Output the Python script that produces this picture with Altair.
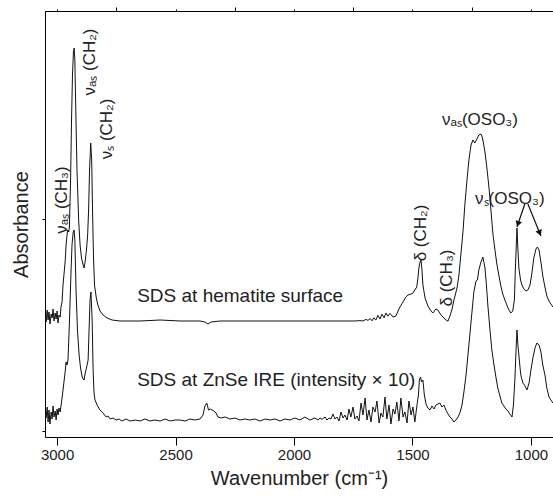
import altair as alt
import pandas as pd

FONT = "Liberation Sans"

# SDS at hematite surface (upper trace): wavenumber (cm-1), absorbance (offset, a.u.)
upper_wn = [3051, 3046, 3042, 3038, 3034, 3030, 3025, 3021, 3017, 3013, 3008, 3004, 3000, 2996, 2992, 2987,
            2983, 2979, 2975, 2970, 2966, 2962, 2958, 2955, 2951, 2948, 2943, 2939, 2935, 2931, 2928, 2925,
            2921, 2916, 2909, 2903, 2897, 2890, 2886, 2882, 2876, 2871, 2867, 2863, 2858, 2854, 2850, 2846,
            2842, 2835, 2829, 2819, 2806, 2789, 2768, 2734, 2650, 2565, 2481, 2397, 2376, 2363, 2350, 2312,
            2228, 2144, 2059, 1975, 1890, 1806, 1743, 1722, 1709, 1696, 1688, 1679, 1671, 1663, 1654, 1646,
            1637, 1629, 1620, 1612, 1604, 1595, 1582, 1570, 1561, 1553, 1540, 1528, 1519, 1506, 1498, 1490,
            1482, 1477, 1473, 1468, 1464, 1460, 1456, 1447, 1435, 1422, 1414, 1401, 1393, 1380, 1371, 1359,
            1350, 1342, 1333, 1325, 1312, 1304, 1296, 1287, 1279, 1270, 1262, 1253, 1245, 1237, 1228, 1220,
            1211, 1207, 1203, 1194, 1186, 1177, 1169, 1161, 1152, 1144, 1135, 1127, 1119, 1110, 1102, 1093,
            1085, 1077, 1070, 1066, 1061, 1059, 1056, 1051, 1044, 1038, 1030, 1021, 1013, 1004, 996, 988,
            979, 973, 966, 958, 950, 941, 933, 924, 916, 907]
upper_abs = [0.575, 0.545, 0.605, 0.555, 0.595, 0.535, 0.585, 0.565, 0.610, 0.550, 0.590, 0.560, 0.600, 0.540, 0.580, 0.570,
             0.625, 0.645, 0.730, 0.795, 0.845, 0.930, 0.980, 1.005, 0.995, 1.020, 1.255, 1.555, 1.780, 1.895, 1.915, 1.855,
             1.605, 1.305, 1.055, 0.930, 0.865, 0.830, 0.815, 0.845, 0.905, 0.980, 1.105, 1.305, 1.440, 1.355, 1.080, 0.855,
             0.730, 0.670, 0.635, 0.600, 0.580, 0.565, 0.555, 0.550, 0.550, 0.555, 0.550, 0.550, 0.545, 0.535, 0.545, 0.550,
             0.550, 0.550, 0.550, 0.550, 0.550, 0.550, 0.550, 0.552, 0.550, 0.558, 0.553, 0.562, 0.551, 0.566, 0.556, 0.578,
             0.560, 0.584, 0.566, 0.590, 0.574, 0.588, 0.570, 0.575, 0.600, 0.620, 0.645, 0.670, 0.680, 0.685, 0.690, 0.705,
             0.720, 0.765, 0.815, 0.845, 0.855, 0.805, 0.730, 0.665, 0.625, 0.600, 0.590, 0.610, 0.605, 0.580, 0.570, 0.555,
             0.550, 0.575, 0.610, 0.655, 0.715, 0.780, 0.880, 0.995, 1.130, 1.255, 1.355, 1.430, 1.455, 1.440, 1.460, 1.480,
             1.485, 1.475, 1.455, 1.395, 1.315, 1.215, 1.105, 0.990, 0.905, 0.835, 0.775, 0.725, 0.685, 0.655, 0.630, 0.605,
             0.590, 0.600, 0.655, 0.805, 0.955, 1.015, 0.930, 0.815, 0.755, 0.730, 0.710, 0.700, 0.705, 0.730, 0.790, 0.865,
             0.910, 0.920, 0.905, 0.845, 0.775, 0.720, 0.675, 0.650, 0.635, 0.620]

# SDS at ZnSe IRE, intensity x 10 (lower trace)
lower_wn = [3051, 3046, 3042, 3038, 3034, 3030, 3025, 3021, 3017, 3013, 3008, 3004, 3000, 2996, 2992, 2987,
            2983, 2979, 2975, 2970, 2966, 2962, 2958, 2954, 2949, 2945, 2941, 2937, 2932, 2928, 2925, 2920,
            2914, 2907, 2901, 2895, 2890, 2886, 2882, 2876, 2869, 2865, 2861, 2857, 2852, 2848, 2844, 2840,
            2831, 2819, 2806, 2793, 2785, 2776, 2764, 2751, 2738, 2726, 2709, 2692, 2671, 2650, 2629, 2608,
            2587, 2565, 2544, 2523, 2502, 2481, 2460, 2439, 2418, 2397, 2384, 2376, 2368, 2361, 2354, 2346,
            2338, 2329, 2321, 2308, 2291, 2270, 2249, 2228, 2207, 2186, 2165, 2144, 2122, 2101, 2080, 2059,
            2038, 2017, 1996, 1975, 1954, 1933, 1912, 1899, 1890, 1882, 1869, 1861, 1852, 1844, 1836, 1827,
            1819, 1810, 1802, 1793, 1785, 1776, 1768, 1760, 1751, 1743, 1734, 1726, 1717, 1709, 1700, 1692,
            1684, 1675, 1667, 1658, 1650, 1641, 1633, 1625, 1616, 1608, 1599, 1591, 1582, 1574, 1566, 1557,
            1549, 1540, 1532, 1523, 1515, 1506, 1498, 1490, 1481, 1475, 1471, 1466, 1462, 1456, 1450, 1443,
            1435, 1426, 1418, 1409, 1401, 1393, 1384, 1376, 1367, 1359, 1350, 1342, 1333, 1325, 1317, 1308,
            1300, 1291, 1283, 1274, 1266, 1258, 1249, 1241, 1232, 1226, 1220, 1211, 1203, 1194, 1188, 1182,
            1173, 1165, 1156, 1148, 1140, 1131, 1123, 1114, 1106, 1097, 1089, 1080, 1074, 1068, 1063, 1059,
            1055, 1046, 1042, 1034, 1025, 1017, 1008, 1000, 992, 983, 975, 966, 958, 950, 941, 933,
            924, 916, 907]
lower_abs = [0.090, 0.065, 0.120, 0.045, 0.105, 0.035, 0.095, 0.060, 0.125, 0.070, 0.100, 0.055, 0.110, 0.080, 0.115, 0.095,
             0.130, 0.165, 0.205, 0.255, 0.295, 0.345, 0.330, 0.355, 0.505, 0.655, 0.805, 0.930, 0.995, 1.005, 0.955, 0.705,
             0.505, 0.380, 0.315, 0.275, 0.260, 0.255, 0.285, 0.315, 0.355, 0.505, 0.655, 0.695, 0.555, 0.305, 0.190, 0.155,
             0.130, 0.105, 0.090, 0.070, 0.075, 0.060, 0.065, 0.055, 0.060, 0.050, 0.060, 0.050, 0.055, 0.050, 0.060, 0.050,
             0.055, 0.050, 0.060, 0.050, 0.055, 0.055, 0.050, 0.060, 0.055, 0.060, 0.080, 0.125, 0.140, 0.105, 0.110, 0.105,
             0.100, 0.090, 0.070, 0.065, 0.070, 0.060, 0.065, 0.055, 0.060, 0.055, 0.060, 0.050, 0.060, 0.055, 0.060, 0.050,
             0.060, 0.055, 0.065, 0.055, 0.070, 0.055, 0.065, 0.055, 0.065, 0.058, 0.070, 0.055, 0.065, 0.060, 0.085, 0.060,
             0.070, 0.050, 0.095, 0.065, 0.080, 0.055, 0.110, 0.070, 0.120, 0.060, 0.075, 0.050, 0.140, 0.080, 0.165, 0.055,
             0.105, 0.045, 0.120, 0.095, 0.150, 0.040, 0.090, 0.070, 0.170, 0.060, 0.130, 0.035, 0.110, 0.085, 0.145, 0.050,
             0.165, 0.070, 0.095, 0.040, 0.150, 0.080, 0.120, 0.045, 0.130, 0.180, 0.255, 0.270, 0.245, 0.255, 0.180, 0.135,
             0.115, 0.105, 0.125, 0.110, 0.130, 0.135, 0.140, 0.120, 0.130, 0.105, 0.085, 0.070, 0.060, 0.045, 0.055, 0.070,
             0.090, 0.130, 0.195, 0.280, 0.380, 0.480, 0.595, 0.695, 0.750, 0.755, 0.805, 0.845, 0.870, 0.815, 0.730, 0.630,
             0.505, 0.405, 0.330, 0.270, 0.215, 0.175, 0.140, 0.125, 0.110, 0.100, 0.085, 0.070, 0.130, 0.255, 0.405, 0.505,
             0.430, 0.315, 0.275, 0.240, 0.225, 0.205, 0.240, 0.305, 0.365, 0.415, 0.440, 0.430, 0.395, 0.330, 0.280, 0.215,
             0.170, 0.155, 0.140]

x_ticks = [3000, 2500, 2000, 1500, 1000]
x_minor = [2750, 2250, 1750, 1250]

# band assignments (rotated labels)
vlabels = ["\u03bd\u2090\u209b (CH\u2082)", "\u03bd\u209b (CH\u2082)", "\u03bd\u2090\u209b (CH\u2083)",
           "\u03b4 (CH\u2082)", "\u03b4 (CH\u2083)"]
vlabel_wn = [2861, 2789, 2979, 1464, 1355]
vlabel_abs = [1.845, 1.51, 1.155, 0.99, 0.765]

# band assignments (horizontal labels)
hlabels = ["\u03bd\u2090\u209b(OSO\u2083)", "\u03bd\u209b(OSO\u2083)"]
hlabel_wn = [1215, 1089]
hlabel_abs = [1.555, 1.16]

# trace names
names = ["SDS at hematite surface", "SDS at ZnSe IRE (intensity \u00d7 10)"]
name_wn = [2662, 2662]
name_abs = [0.675, 0.255]

# arrows from the nu_s(OSO3) label to the two bands
arrow_wn0 = [1026, 1013]
arrow_abs0 = [1.135, 1.135]
arrow_wn1 = [1059, 958]
arrow_abs1 = [1.02, 0.975]
head_wn = [1055, 963]
head_abs = [1.035, 0.99]
head_angle = [199, 158]

xs = alt.Scale(domain=[3051, 907], nice=False, zero=False)
ys = alt.Scale(domain=[-0.03, 2.1], nice=False, zero=False)

up = pd.DataFrame({"wn": upper_wn, "a": upper_abs})
lo = pd.DataFrame({"wn": lower_wn, "a": lower_abs})
vl = pd.DataFrame({"wn": vlabel_wn, "a": vlabel_abs, "t": vlabels})
hl = pd.DataFrame({"wn": hlabel_wn, "a": hlabel_abs, "t": hlabels})
nm = pd.DataFrame({"wn": name_wn, "a": name_abs, "t": names})
ar = pd.DataFrame({"wn": arrow_wn0, "a": arrow_abs0, "wn2": arrow_wn1, "a2": arrow_abs1})
hd = pd.DataFrame({"wn": head_wn, "a": head_abs, "ang": head_angle})

axis_common = dict(grid=False, domainColor="#000", tickColor="#000", domainWidth=1, tickWidth=1,
                   labelFont=FONT, titleFont=FONT, labelColor="#222", titleColor="#222",
                   titleFontWeight="normal")

bottom_axis = alt.Axis(values=x_ticks, format="d", labelFontSize=15, tickSize=8, labelPadding=2,
                       title="Wavenumber (cm\u207b\u00b9)", titleFontSize=20, titlePadding=6, **axis_common)
minor_axis = alt.Axis(values=x_minor, labels=False, tickSize=4, title=None, **axis_common)
top_axis = alt.Axis(orient="top", values=x_ticks + x_minor, labels=False, tickSize=2, title=None, **axis_common)
left_axis = alt.Axis(values=[0, 1.06], labels=False, tickSize=3, title="Absorbance", titleFontSize=20,
                     titlePadding=10, **axis_common)

l_up = alt.Chart(up).mark_line(color="#111", strokeWidth=1, clip=True).encode(
    x=alt.X("wn:Q", scale=xs, axis=bottom_axis),
    y=alt.Y("a:Q", scale=ys, axis=left_axis),
    order="wn:Q",
)
l_lo = alt.Chart(lo).mark_line(color="#111", strokeWidth=1, clip=True).encode(
    x=alt.X("wn:Q", scale=xs, axis=minor_axis),
    y=alt.Y("a:Q", scale=ys, axis=None),
    order="wn:Q",
)
t_v = alt.Chart(vl).mark_text(font=FONT, fontSize=17, angle=270, align="center", baseline="middle",
                             color="#222").encode(
    x=alt.X("wn:Q", scale=xs, axis=top_axis),
    y=alt.Y("a:Q", scale=ys, axis=None),
    text="t:N",
)
t_h = alt.Chart(hl).mark_text(font=FONT, fontSize=17, align="center", baseline="middle", color="#222").encode(
    x=alt.X("wn:Q", scale=xs, axis=None),
    y=alt.Y("a:Q", scale=ys, axis=None),
    text="t:N",
)
t_n = alt.Chart(nm).mark_text(font=FONT, fontSize=19, align="left", baseline="middle", color="#222").encode(
    x=alt.X("wn:Q", scale=xs, axis=None),
    y=alt.Y("a:Q", scale=ys, axis=None),
    text="t:N",
)
r_ar = alt.Chart(ar).mark_rule(color="#111", strokeWidth=1.2).encode(
    x=alt.X("wn:Q", scale=xs, axis=None),
    y=alt.Y("a:Q", scale=ys, axis=None),
    x2="wn2:Q",
    y2="a2:Q",
)
p_hd = alt.Chart(hd).mark_point(shape="triangle-up", filled=True, color="#111", size=45, opacity=1).encode(
    x=alt.X("wn:Q", scale=xs, axis=None),
    y=alt.Y("a:Q", scale=ys, axis=None),
    angle=alt.Angle("ang:Q", scale=None),
)

chart = alt.layer(l_up, l_lo, t_v, t_h, t_n, r_ar, p_hd).resolve_axis(
    x="independent", y="independent"
).properties(
    width=508, height=426,
    padding={"left": 45, "top": 11, "right": 0, "bottom": 63},
    autosize=alt.AutoSizeParams(type="none"),
    background="white",
).configure_view(stroke=None)

chart.save("out.html", embed_options={"renderer": "svg", "actions": False})
